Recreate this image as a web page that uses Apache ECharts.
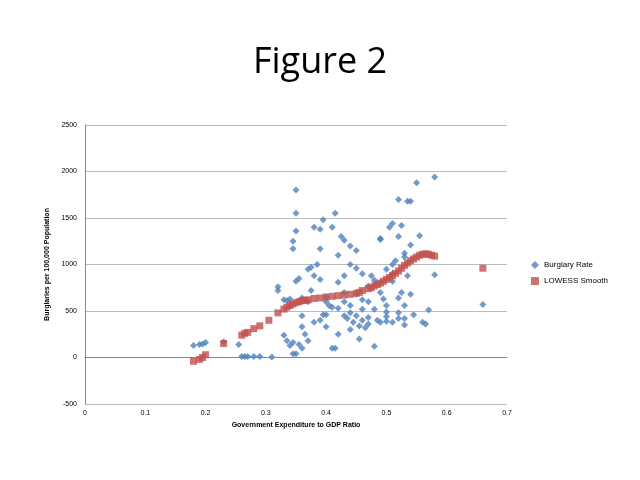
<!DOCTYPE html>
<html>
<head>
<meta charset="utf-8">
<script src="https://cdn.jsdelivr.net/npm/echarts@6/dist/echarts.min.js"></script>
<style>html,body{margin:0;background:#fff}#chart{width:640px;height:480px}</style>
</head>
<body>
<div id="chart"></div>
<script>
// burglary rate vs government expenditure ratio
const burglaryRate = [
  [0.18,130],[0.19,140],[0.195,145],[0.2,160],[0.23,170],[0.255,140],
  [0.26,10],[0.265,10],[0.27,10],[0.28,10],[0.29,10],[0.31,5],[0.345,40],[0.35,40],
  [0.32,760],[0.32,720],[0.33,620],[0.335,610],[0.34,630],[0.34,560],[0.345,1170],[0.345,1250],
  [0.35,1360],[0.35,1550],[0.35,1800],[0.35,820],[0.355,850],[0.36,640],[0.36,450],[0.36,330],
  [0.365,250],[0.33,240],[0.335,180],[0.34,130],[0.345,160],[0.355,140],[0.36,100],[0.37,180],
  [0.37,950],[0.375,970],[0.38,1400],[0.39,1380],[0.39,1170],[0.385,1000],[0.395,1480],[0.38,880],
  [0.37,600],[0.375,720],[0.38,380],[0.39,400],[0.395,460],[0.39,840],[0.4,650],[0.4,600],
  [0.4,460],[0.4,330],[0.41,1400],[0.415,1550],[0.41,540],[0.405,560],[0.42,1100],[0.42,810],
  [0.42,250],[0.41,100],[0.415,100],[0.425,1300],[0.43,1260],[0.43,880],[0.43,700],[0.43,450],
  [0.435,420],[0.44,1200],[0.44,1000],[0.44,560],[0.44,300],[0.445,380],[0.45,1150],[0.45,960],
  [0.45,680],[0.45,450],[0.455,340],[0.455,200],[0.46,900],[0.46,520],[0.46,400],[0.465,320],
  [0.47,600],[0.47,360],[0.47,430],[0.475,880],[0.48,830],[0.48,520],[0.48,120],[0.485,400],
  [0.49,1280],[0.49,1270],[0.49,700],[0.495,630],[0.5,490],[0.5,440],[0.5,950],[0.505,1400],
  [0.51,1440],[0.51,1000],[0.51,900],[0.51,380],[0.515,1040],[0.52,1700],[0.52,1300],[0.52,640],
  [0.52,420],[0.525,1420],[0.53,1120],[0.53,1080],[0.53,560],[0.535,1680],[0.54,1680],[0.54,1210],
  [0.54,680],[0.545,460],[0.55,1880],[0.555,1310],[0.56,380],[0.565,360],[0.57,510],[0.58,890],
  [0.58,1940],[0.66,570],[0.53,420],[0.53,350],[0.5,390],[0.49,380],[0.52,480],[0.42,530],
  [0.43,600],[0.44,480],[0.46,620],[0.47,770],[0.5,560],[0.51,820],[0.525,700],[0.535,880]
];
const lowessSmooth = [
  [0.18,-40],[0.19,-20],[0.195,0],[0.2,30],[0.23,150],[0.26,240],[0.265,260],[0.27,270],
  [0.28,310],[0.29,340],[0.305,400],[0.32,480],[0.33,520],[0.335,540],[0.34,560],[0.345,575],
  [0.35,590],[0.355,600],[0.36,610],[0.365,615],[0.37,620],[0.38,635],[0.39,640],[0.4,650],
  [0.41,658],[0.42,665],[0.43,672],[0.44,680],[0.45,690],[0.455,700],[0.46,720],[0.47,740],
  [0.475,750],[0.48,770],[0.485,785],[0.49,800],[0.495,820],[0.5,840],[0.505,860],[0.51,880],
  [0.515,905],[0.52,930],[0.525,960],[0.53,990],[0.535,1015],[0.54,1040],[0.545,1060],
  [0.55,1080],[0.555,1100],[0.56,1110],[0.565,1115],[0.57,1110],[0.575,1100],[0.58,1090],[0.66,960]
];

let chart = echarts.init(document.getElementById("chart"));
chart.setOption({
  animation: false,
  title: {
    text: "Figure 2",
    left: "center",
    top: 40,
    textStyle: { fontFamily: "Open Sans", fontSize: 36, fontWeight: "normal", color: "#000" },
  },
  grid: { left: 85, right: 133, top: 125, bottom: 76 },
  legend: {
    orient: "vertical",
    left: 526,
    top: 256,
    itemWidth: 8,
    itemHeight: 8,
    itemGap: 8,
    textStyle: { fontSize: 8, fontFamily: "Liberation Sans", color: "#000" },
    data: [
      { name: "Burglary Rate", icon: "diamond" },
      { name: "LOWESS Smooth", icon: "rect" },
    ],
  },
  xAxis: {
    type: "value",
    min: 0,
    max: 0.7,
    interval: 0.1,
    name: "Government Expenditure to GDP Ratio",
    nameLocation: "middle",
    nameGap: 9,
    nameTextStyle: { fontSize: 7, fontWeight: "bold", color: "#000" },
    axisLine: { onZero: true, lineStyle: { color: "#888" } },
    axisTick: { show: false },
    axisLabel: { fontSize: 7, color: "#000", margin: 6 },
    splitLine: { show: false },
  },
  yAxis: {
    type: "value",
    min: -500,
    max: 2500,
    interval: 500,
    name: "Burglaries per 100,000 Population",
    nameLocation: "middle",
    nameGap: 26,
    nameTextStyle: { fontSize: 7, fontWeight: "bold", color: "#000" },
    axisLine: { show: true, lineStyle: { color: "#888" } },
    axisTick: { show: false },
    axisLabel: { fontSize: 7, color: "#000", formatter: (v) => String(v) },
    splitLine: { lineStyle: { color: "#bbb" } },
  },
  series: [
    {
      name: "Burglary Rate",
      type: "scatter",
      symbol: "diamond",
      symbolSize: 7,
      itemStyle: { color: "#4f81bd" },
      data: burglaryRate,
    },
    {
      name: "LOWESS Smooth",
      type: "scatter",
      symbol: "rect",
      symbolSize: 7,
      itemStyle: { color: "#c0504d" },
      data: lowessSmooth,
    },
  ],
});
</script>
</body>
</html>
